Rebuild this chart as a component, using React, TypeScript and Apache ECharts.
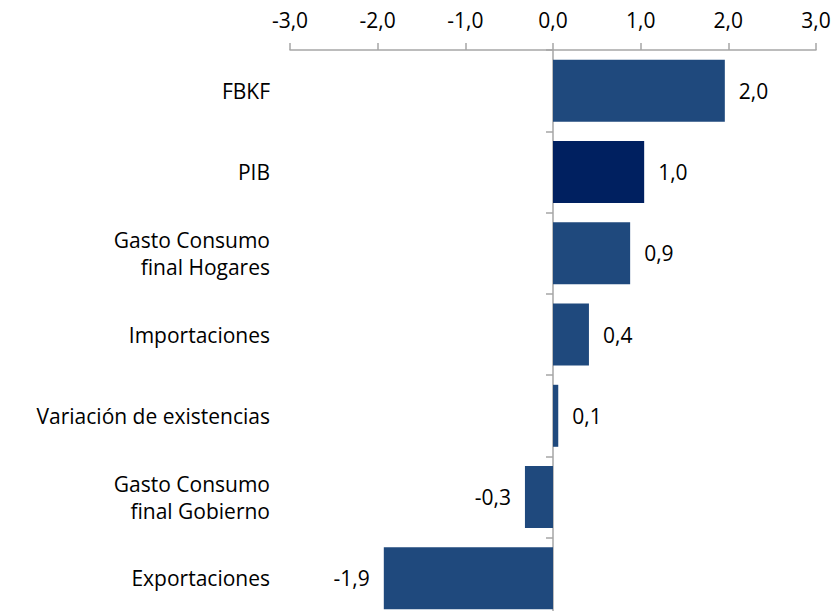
import React, { useEffect, useRef } from "react";
import * as echarts from "echarts";

const categories = [
  "FBKF",
  "PIB",
  "Gasto Consumo\nfinal Hogares",
  "Importaciones",
  "Variación de existencias",
  "Gasto Consumo\nfinal Gobierno",
  "Exportaciones",
];
const values = [1.96, 1.04, 0.88, 0.41, 0.06, -0.32, -1.93];
const highlight = "PIB";
const axisMin = -3;
const axisMax = 3;
const axisStep = 1;

const FONT = "Open Sans";

export default function App() {
  const ref = useRef<HTMLDivElement>(null);
  useEffect(() => {
    if (!ref.current) return;
    const chart = echarts.init(ref.current, undefined, { renderer: "svg" });
    const fmt = (v: number) => v.toFixed(1).replace(".", ",");
    chart.setOption({
      animation: false,
      backgroundColor: "#ffffff",
      grid: { left: 290, top: 50, width: 526, height: 569 },
      xAxis: {
        type: "value",
        position: "top",
        min: axisMin,
        max: axisMax,
        interval: axisStep,
        splitLine: { show: false },
        axisLine: { show: true, lineStyle: { color: "#A6A6A6", width: 1.5 } },
        axisTick: { show: true, length: 7, lineStyle: { color: "#A6A6A6", width: 1.5 } },
        axisLabel: {
          margin: 20,
          color: "#000",
          fontFamily: FONT,
          fontSize: 21,
          formatter: (v: number) => fmt(v),
        },
      },
      yAxis: [
        {
          type: "category",
          data: categories,
          inverse: true,
          axisLine: { show: true, onZero: true, lineStyle: { color: "#A6A6A6", width: 1.5 } },
          axisTick: { show: true, length: 7, lineStyle: { color: "#A6A6A6", width: 1.5 } },
          axisLabel: { show: false },
          splitLine: { show: false },
        },
        {
          type: "category",
          data: categories,
          inverse: true,
          position: "left",
          axisLine: { show: false, onZero: false },
          axisTick: { show: false },
          splitLine: { show: false },
          axisLabel: {
            margin: 20,
            color: "#000",
            fontFamily: FONT,
            fontSize: 21,
            lineHeight: 27,
            align: "right",
          },
        },
      ],
      series: [
        {
          type: "bar",
          yAxisIndex: 0,
          barWidth: 62,
          data: values.map((v, i) => ({
            value: v,
            itemStyle: { color: categories[i] === highlight ? "#002060" : "#1F497D" },
            label: {
              show: true,
              position: v >= 0 ? "right" : "left",
              distance: 14,
              color: "#000",
              fontFamily: FONT,
              fontSize: 21,
              formatter: () => fmt(v),
            },
          })),
        },
      ],
    });
    return () => chart.dispose();
  }, []);
  return (
    <div
      style={{
        position: "absolute",
        left: 0,
        top: 0,
        width: 838,
        height: 611,
        overflow: "hidden",
      }}
    >
      <div ref={ref} style={{ width: 838, height: 622 }} />
    </div>
  );
}
